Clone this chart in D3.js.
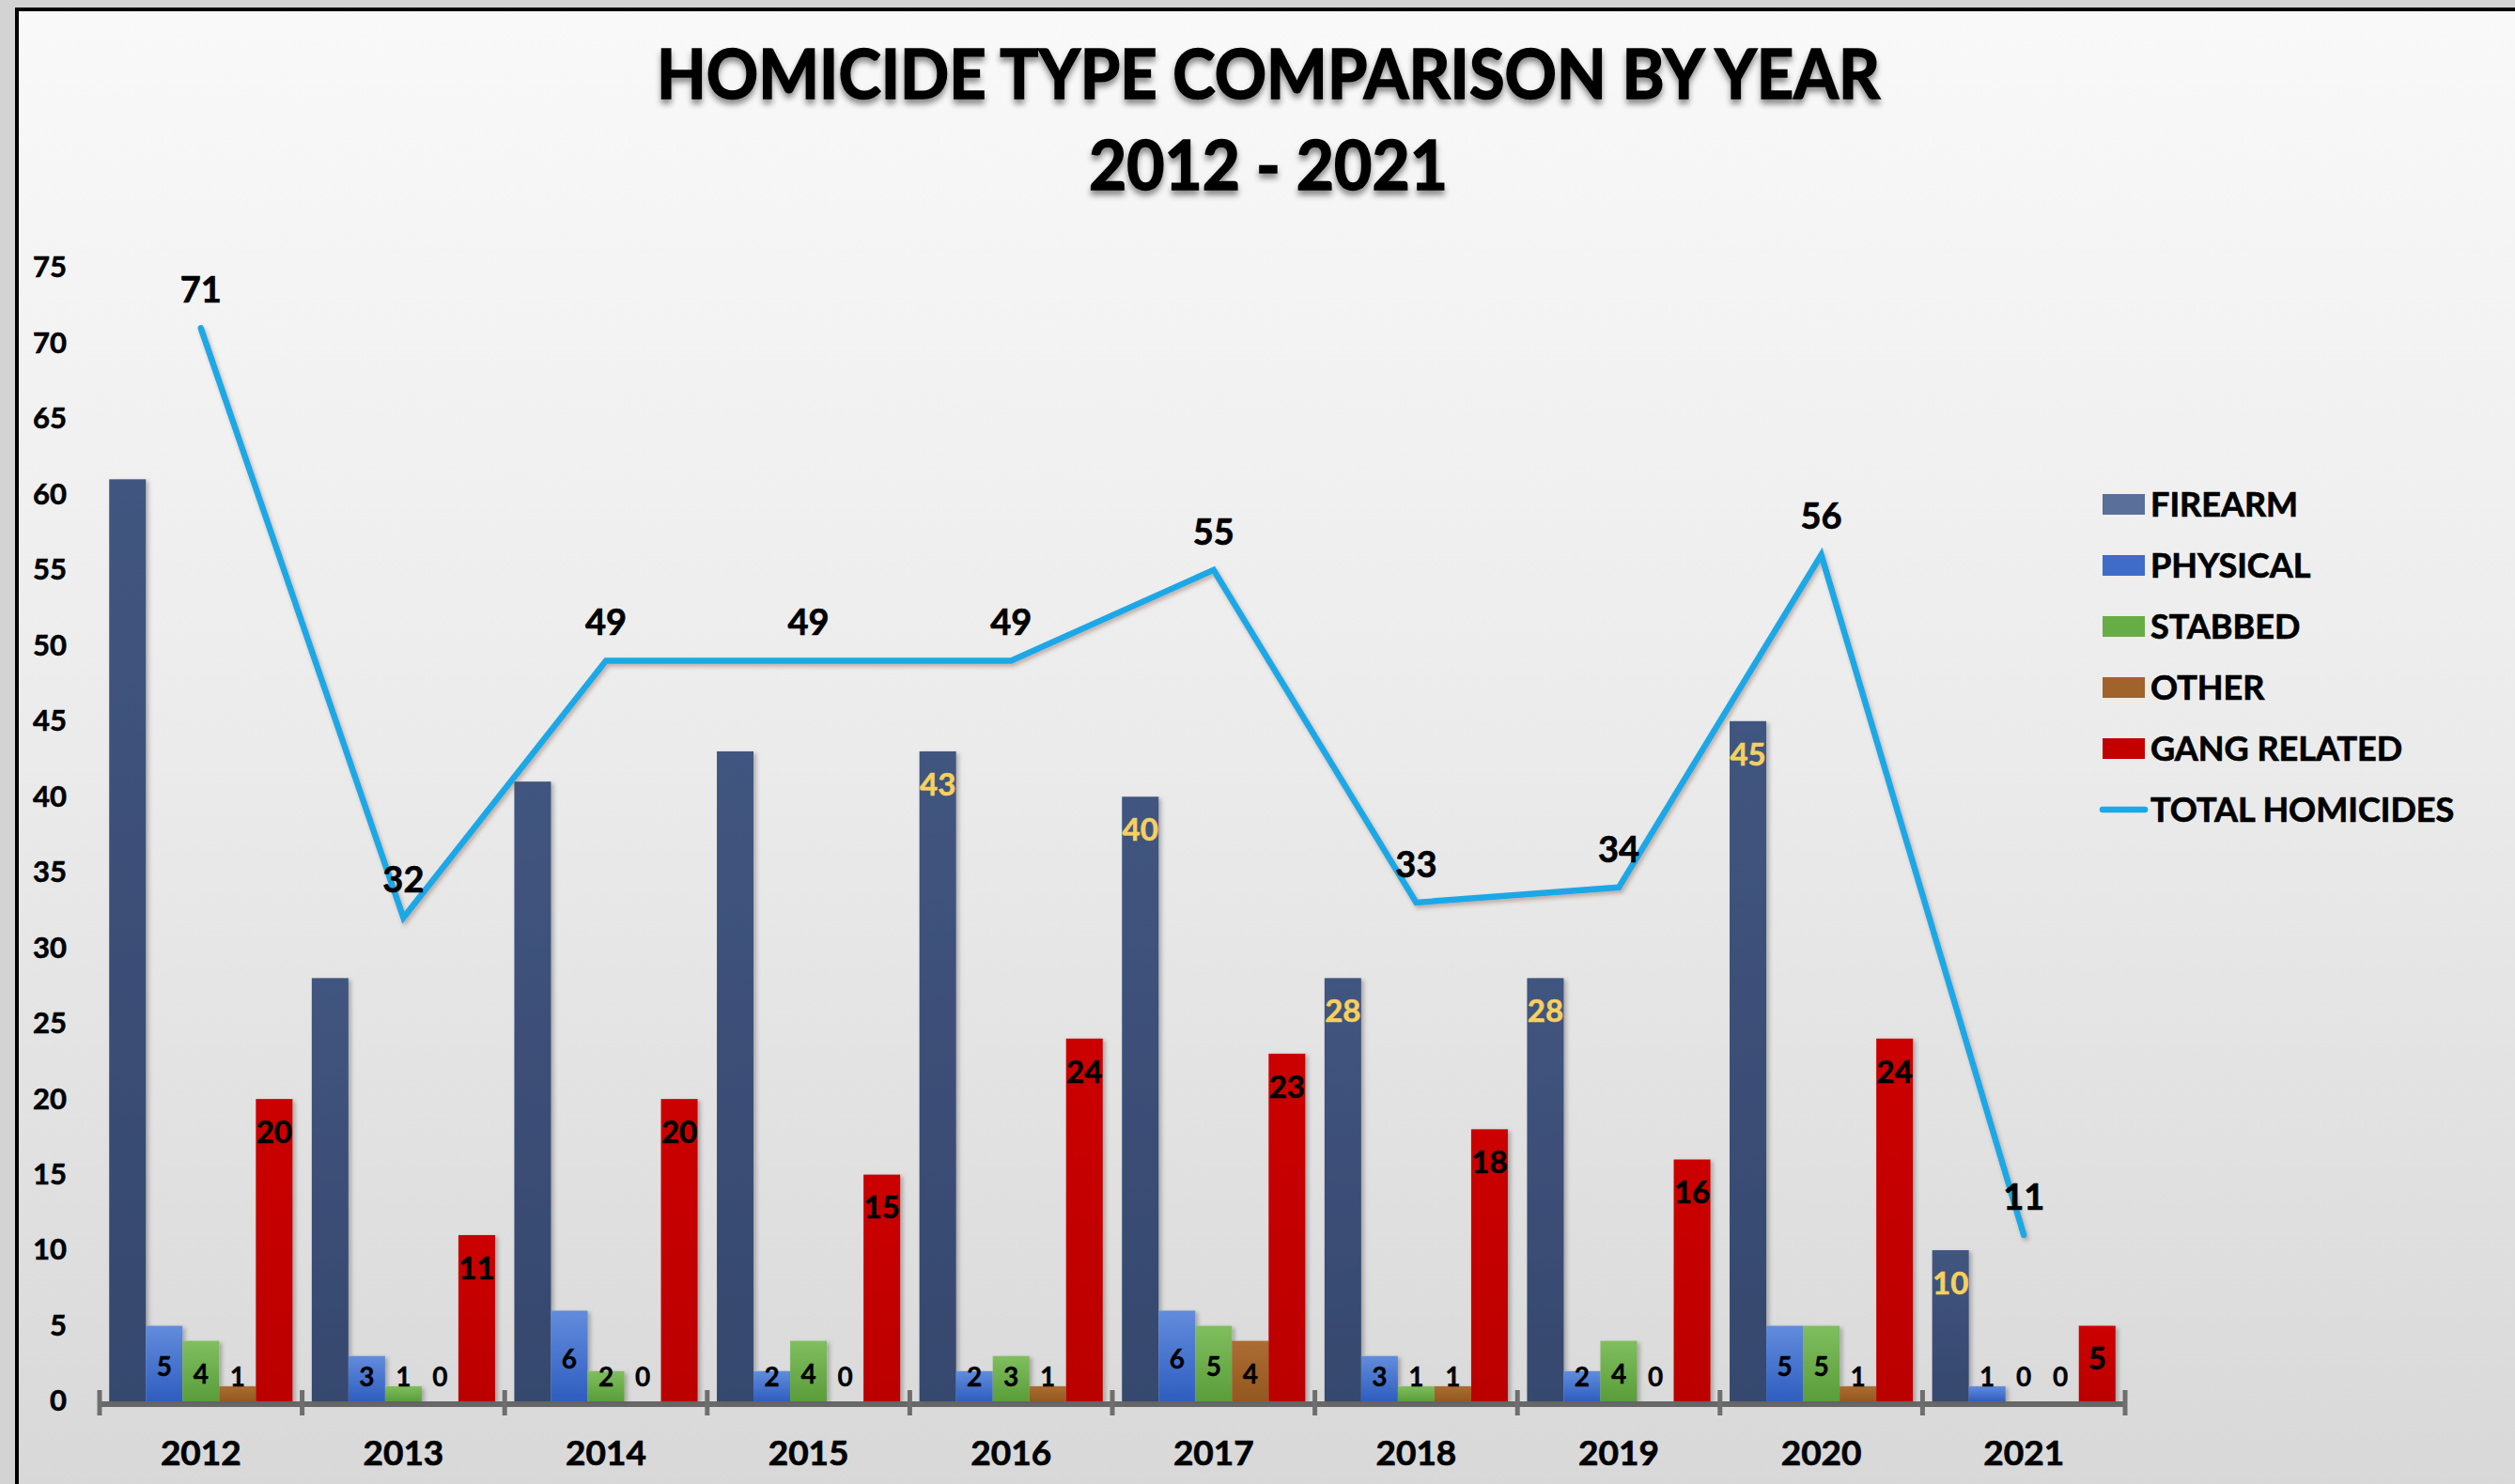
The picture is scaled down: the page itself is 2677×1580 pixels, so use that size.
<!DOCTYPE html>
<html><head><meta charset="utf-8">
<script src="https://cdn.jsdelivr.net/npm/d3@7"></script>
<style>
body{margin:0;background:#d3d3d3;overflow:hidden}
text{font-family:Lato,'Open Sans',sans-serif;font-weight:700}
</style>
</head><body><svg id="c" width="2677" height="1580"></svg>
<script>
// ---------- data ----------
const years = ['2012','2013','2014','2015','2016','2017','2018','2019','2020','2021'];
const seriesNames = ['FIREARM','PHYSICAL','STABBED','OTHER','GANG RELATED'];
const firearm  = [61,28,41,43,43,40,28,28,45,10];
const physical = [5,3,6,2,2,6,3,2,5,1];
const stabbed  = [4,1,2,4,3,5,1,4,5,0];
const other    = [1,0,0,0,1,4,1,0,1,0];
const gang     = [20,11,20,15,24,23,18,16,24,5];
const total    = [71,32,49,49,49,55,33,34,56,11];
const firearmLabels = [null,null,null,null,43,40,28,28,45,10];
const yTickValues = [0,5,10,15,20,25,30,35,40,45,50,55,60,65,70,75];
const lineName = 'TOTAL HOMICIDES';
const titleLines = ['HOMICIDE TYPE COMPARISON BY YEAR','2012 - 2021'];

// ---------- styles ----------
const barGrad = {
  'FIREARM':['#41557f','#36486e'],
  'PHYSICAL':['#628cdc','#2f5ec0'],
  'STABBED':['#80be5e','#5a9d3a'],
  'OTHER':['#ab6d33','#93581f'],
  'GANG RELATED':['#cc0000','#bb0000']
};
const legendColor = {'FIREARM':'#5b6f9b','PHYSICAL':'#3f6cc9','STABBED':'#67ad45','OTHER':'#a0632c','GANG RELATED':'#c20000'};
const lineColor = '#1ba8e6';

const svg = d3.select('#c');
const defs = svg.append('defs');
const bg = defs.append('linearGradient').attr('id','bg').attr('x1',0).attr('y1',0).attr('x2',0).attr('y2',1);
bg.append('stop').attr('offset','0%').attr('stop-color','#f9f9f9');
bg.append('stop').attr('offset','50%').attr('stop-color','#ebebeb');
bg.append('stop').attr('offset','100%').attr('stop-color','#d8d8d8');
seriesNames.forEach((s,i)=>{
  const g = defs.append('linearGradient').attr('id','g'+i).attr('x1',0).attr('y1',0).attr('x2',0).attr('y2',1);
  g.append('stop').attr('offset','0%').attr('stop-color',barGrad[s][0]);
  g.append('stop').attr('offset','100%').attr('stop-color',barGrad[s][1]);
});
const f1 = defs.append('filter').attr('id','sh').attr('x','-20%').attr('y','-20%').attr('width','150%').attr('height','150%');
f1.append('feDropShadow').attr('dx',3).attr('dy',2).attr('stdDeviation',2).attr('flood-color','#000').attr('flood-opacity',0.25);
const f2 = defs.append('filter').attr('id','tsh').attr('x','-5%').attr('y','-20%').attr('width','110%').attr('height','160%');
f2.append('feDropShadow').attr('dx',0).attr('dy',5).attr('stdDeviation',3).attr('flood-color','#000').attr('flood-opacity',0.45);
const f3 = defs.append('filter').attr('id','lsh').attr('x','-5%').attr('y','-5%').attr('width','110%').attr('height','110%');
f3.append('feDropShadow').attr('dx',2).attr('dy',3).attr('stdDeviation',2).attr('flood-color','#6b3a2a').attr('flood-opacity',0.35);

// background & frame
svg.append('rect').attr('x',18).attr('y',10).attr('width',2677).attr('height',1580).attr('fill','url(#bg)');
svg.append('line').attr('x1',18).attr('x2',2677).attr('y1',10).attr('y2',10).attr('stroke','#000').attr('stroke-width',4);
svg.append('line').attr('x1',18).attr('x2',18).attr('y1',8).attr('y2',1580).attr('stroke','#000').attr('stroke-width',4);

// scales
const y = d3.scaleLinear().domain([0,75]).range([1492,285]);
const x0 = d3.scaleBand().domain(years).range([106,2262]).paddingInner(0.095).paddingOuter(0.0475);
const x1 = d3.scaleBand().domain(seriesNames).range([0,x0.bandwidth()]).padding(0);
const seriesData = {'FIREARM':firearm,'PHYSICAL':physical,'STABBED':stabbed,'OTHER':other,'GANG RELATED':gang};

// title
svg.append('g').attr('filter','url(#tsh)').selectAll('text').data(titleLines).join('text')
  .attr('x',1350).attr('y',(d,i)=>i?176:79).attr('dy','0.36em').attr('text-anchor','middle')
  .attr('font-size',73).attr('fill','#000').attr('stroke','#000').attr('stroke-width',1.6)
  .attr('textLength',(d,i)=>i?382:1302).attr('lengthAdjust','spacingAndGlyphs')
  .text(d=>d);

// y axis labels
const yAxis = d3.axisLeft(y).tickValues(yTickValues).tickSize(0).tickPadding(0);
const ya = svg.append('g').attr('transform','translate(71,0)').call(yAxis);
ya.select('.domain').remove();
ya.selectAll('text').attr('font-size',31).attr('fill','#000').attr('font-family','Lato').attr('font-weight',700)
  .attr('stroke','#000').attr('stroke-width',0.6);

// bars
const barG = svg.append('g').attr('filter','url(#sh)');
seriesNames.forEach((s,si)=>{
  barG.selectAll('rect.s'+si).data(years.map((yr,i)=>({yr,v:seriesData[s][i]}))).join('rect')
    .attr('class','s'+si)
    .attr('x',d=>x0(d.yr)+x1(s)).attr('width',x1.bandwidth())
    .attr('y',d=>y(d.v)).attr('height',d=>y(0)-y(d.v))
    .attr('fill','url(#g'+si+')');
});

// x axis
const ax = svg.append('g');
ax.append('line').attr('x1',x0.range()[0]).attr('x2',x0.range()[1]).attr('y1',y(0)+3).attr('y2',y(0)+3)
  .attr('stroke','#5b5b5b').attr('stroke-width',6).attr('stroke-opacity',0.9);
const bounds = d3.range(years.length+1).map(i=>x0.range()[0]+i*x0.step());
ax.selectAll('line.tk').data(bounds).join('line').attr('class','tk')
  .attr('x1',d=>d).attr('x2',d=>d).attr('y1',y(0)-12).attr('y2',y(0)+15)
  .attr('stroke','#6e6e6e').attr('stroke-width',5);
ax.selectAll('text').data(years).join('text')
  .attr('x',d=>x0(d)+x0.bandwidth()/2).attr('y',1547).attr('dy','0.36em').attr('text-anchor','middle')
  .attr('font-size',37).attr('fill','#000').attr('stroke','#000').attr('stroke-width',0.7).text(d=>d);

// bar data labels
const lab = svg.append('g');
lab.selectAll('text.fa').data(years.map((yr,i)=>({yr,v:firearmLabels[i]})).filter(d=>d.v!==null)).join('text')
  .attr('class','fa').attr('x',d=>x0(d.yr)+x1('FIREARM')+x1.bandwidth()/2).attr('y',d=>y(d.v)+35)
  .attr('dy','0.36em').attr('text-anchor','middle').attr('font-size',33).attr('fill','#f6d060')
  .attr('stroke','#f6d060').attr('stroke-width',0.6).text(d=>d.v);
lab.selectAll('text.gg').data(years.map((yr,i)=>({yr,v:gang[i]}))).join('text')
  .attr('class','gg').attr('x',d=>x0(d.yr)+x1('GANG RELATED')+x1.bandwidth()/2).attr('y',d=>y(d.v)+35)
  .attr('dy','0.36em').attr('text-anchor','middle').attr('font-size',33).attr('fill','#000')
  .attr('stroke','#000').attr('stroke-width',0.6).text(d=>d.v);
['PHYSICAL','STABBED','OTHER'].forEach((s,k)=>{
  lab.selectAll('text.sm'+k).data(years.map((yr,i)=>({yr,v:seriesData[s][i]}))).join('text')
    .attr('class','sm'+k).attr('x',d=>x0(d.yr)+x1(s)+x1.bandwidth()/2)
    .attr('y',d=>Math.min((y(d.v)+y(0))/2+3, y(0)-26))
    .attr('dy','0.36em').attr('text-anchor','middle').attr('font-size',28).attr('fill','#000')
    .attr('stroke','#000').attr('stroke-width',0.4).text(d=>d.v);
});

// total line
const line = d3.line().x((d,i)=>x0(years[i])+x0.bandwidth()/2).y(d=>y(d));
svg.append('path').datum(total).attr('d',line).attr('fill','none').attr('stroke',lineColor)
  .attr('stroke-width',6.5).attr('stroke-linejoin','miter').attr('stroke-linecap','round').attr('filter','url(#lsh)');
svg.append('g').selectAll('text').data(total).join('text')
  .attr('x',(d,i)=>x0(years[i])+x0.bandwidth()/2).attr('y',d=>y(d)-41).attr('dy','0.36em')
  .attr('text-anchor','middle').attr('font-size',38).attr('fill','#000')
  .attr('stroke','#000').attr('stroke-width',0.7).text(d=>d);

// legend
const lg = svg.append('g');
const legendItems = seriesNames.concat([lineName]);
legendItems.forEach((s,i)=>{
  const cy = 537 + i*65;
  if(i<seriesNames.length){
    lg.append('rect').attr('x',2238).attr('y',cy-11).attr('width',45).attr('height',22).attr('fill',legendColor[s]);
  } else {
    lg.append('line').attr('x1',2238).attr('x2',2283).attr('y1',cy).attr('y2',cy)
      .attr('stroke',lineColor).attr('stroke-width',6.5).attr('stroke-linecap','round');
  }
  lg.append('text').attr('x',2289).attr('y',cy).attr('dy','0.36em').attr('font-size',36).attr('fill','#000')
    .attr('stroke','#000').attr('stroke-width',0.7).text(s);
});
</script></body></html>
